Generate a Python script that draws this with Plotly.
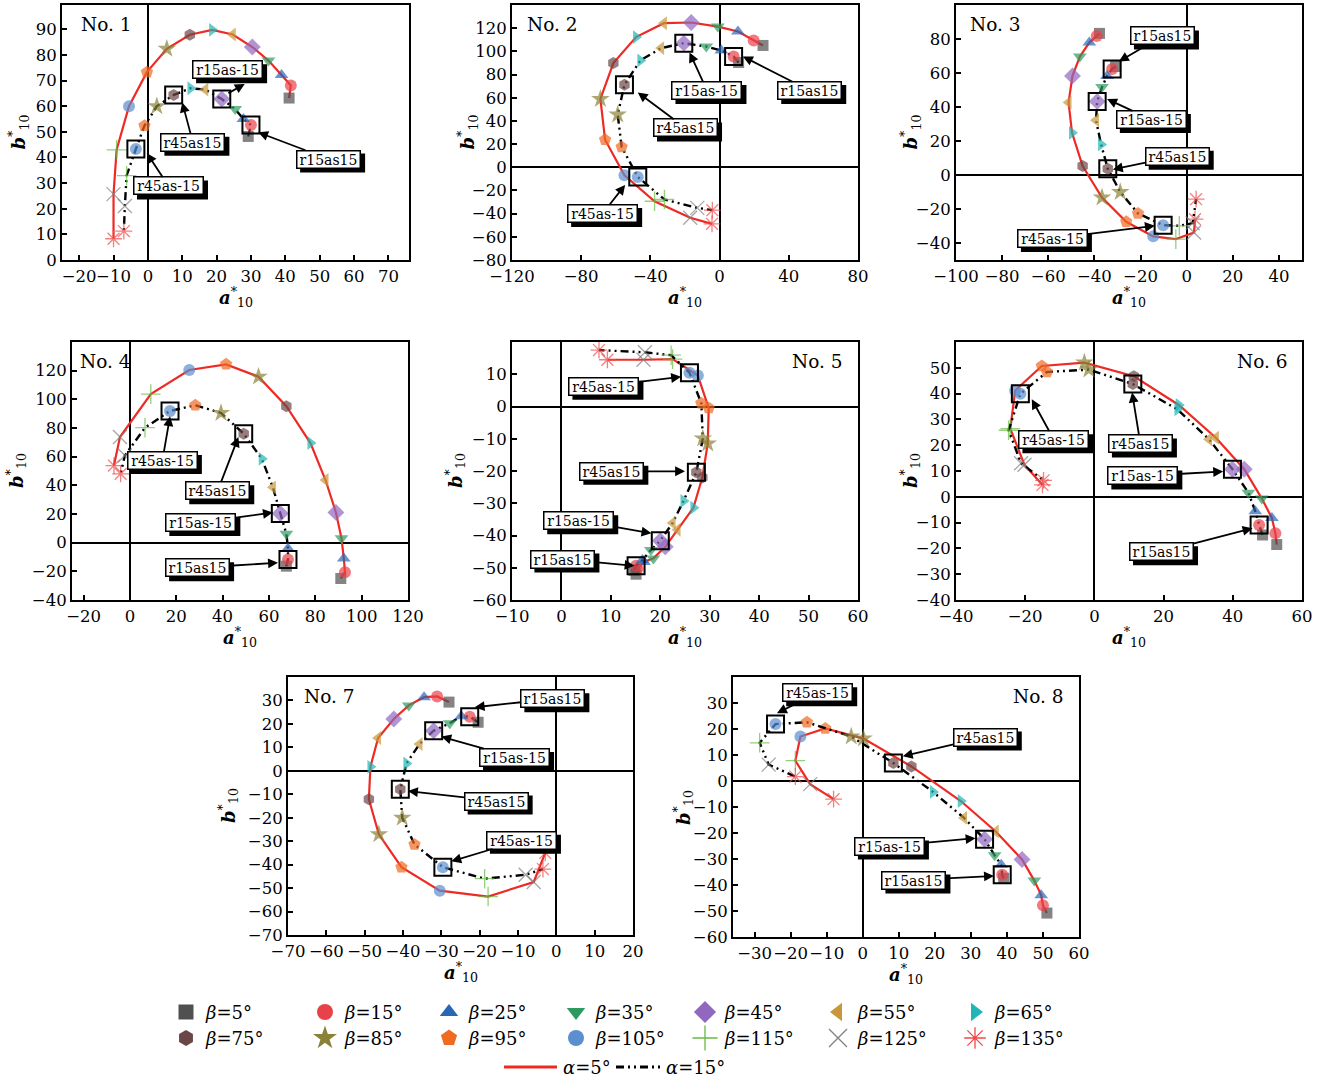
import plotly.graph_objects as go

W, H = 1326, 1081
FONT = "DejaVu Serif"

# ---------------- data ----------------
BETA = [5, 15, 25, 35, 45, 55, 65, 75, 85, 95, 105, 115, 125, 135]
BETA_LABELS = [f"<i>β</i>={b}°" for b in BETA]
ALPHA_LABELS = ["<i>α</i>=5°", "<i>α</i>=15°"]
PANEL_NAMES = ["No. 1", "No. 2", "No. 3", "No. 4", "No. 5", "No. 6", "No. 7", "No. 8"]

P1_A5_a = [41.1, 41.6, 38.9, 35.1, 30.4, 24.7, 18.7, 12.2, 5.5, -0.3, -5.5, -9.1, -10.0, -10.0]
P1_A5_b = [63.2, 68.1, 72.2, 77.8, 83.1, 88.0, 89.8, 87.9, 82.4, 73.3, 60.0, 43.0, 25.7, 8.3]
P1_A15_a = [29.2, 30.0, 27.8, 25.4, 21.5, 16.7, 12.4, 7.5, 2.6, -1.0, -3.5, -6.2, -6.7, -7.0]
P1_A15_b = [48.2, 52.7, 55.0, 58.9, 62.8, 66.5, 67.0, 64.4, 60.0, 52.4, 43.3, 32.9, 21.1, 11.3]

P2_A5_a = [25.1, 19.7, 10.6, -1.0, -16.4, -32.2, -48.3, -61.4, -68.9, -66.2, -55.0, -37.6, -17.0, -4.4]
P2_A5_b = [105.1, 109.4, 117.1, 121.4, 124.9, 124.3, 112.3, 89.9, 58.9, 23.8, -6.9, -29.3, -43.6, -48.8]
P2_A15_a = [11.0, 8.1, 1.0, -7.7, -20.7, -33.8, -45.8, -55.0, -58.9, -56.6, -47.3, -31.9, -12.9, -4.2]
P2_A15_b = [90.4, 95.6, 100.8, 104.2, 107.1, 102.8, 92.2, 71.2, 45.4, 17.5, -8.3, -27.8, -35.0, -37.0]

P3_A5_a = [-37.8, -39.0, -42.2, -46.3, -49.5, -51.2, -49.7, -45.1, -36.7, -26.2, -14.5, -4.7, 3.2, 3.6]
P3_A5_b = [83.3, 81.8, 77.9, 69.7, 58.3, 42.7, 24.8, 5.3, -13.3, -27.5, -36.1, -37.7, -33.8, -26.0]
P3_A15_a = [-30.8, -32.3, -34.5, -36.7, -38.8, -39.3, -37.1, -34.2, -28.8, -21.1, -10.2, -3.2, 2.6, 4.1]
P3_A15_b = [63.8, 62.4, 58.3, 51.7, 43.3, 32.2, 18.0, 3.7, -10.0, -22.6, -29.5, -29.9, -28.3, -14.2]

P4_A5_a = [91.0, 92.8, 92.3, 91.3, 88.9, 84.4, 77.9, 67.5, 55.5, 41.5, 25.6, 9.0, -4.3, -6.9]
P4_A5_b = [-25.0, -20.6, -11.0, 3.0, 21.1, 43.7, 69.5, 95.2, 115.8, 124.4, 120.5, 103.6, 73.7, 53.8]
P4_A15_a = [67.5, 68.2, 68.2, 67.5, 64.9, 61.7, 56.9, 49.1, 39.3, 28.2, 17.3, 6.5, -2.2, -4.0]
P4_A15_b = [-16.4, -11.7, -4.0, 6.3, 20.4, 38.6, 58.5, 76.0, 90.5, 95.9, 91.9, 80.2, 60.8, 48.0]

P5_A5_a = [15.1, 15.4, 16.7, 18.6, 21.0, 23.5, 26.7, 28.5, 29.6, 29.8, 27.6, 22.5, 16.6, 9.3]
P5_A5_b = [-52.0, -50.3, -48.2, -47.1, -43.5, -38.2, -31.4, -22.0, -11.5, -0.5, 9.6, 14.7, 14.5, 14.5]
P5_A15_a = [14.7, 15.1, 16.4, 18.1, 20.0, 22.5, 24.7, 27.3, 28.6, 28.3, 25.9, 22.2, 16.9, 7.6]
P5_A15_b = [-50.8, -49.4, -47.6, -44.5, -41.6, -36.1, -29.3, -20.4, -9.9, 1.0, 10.5, 15.9, 16.8, 17.5]

P6_A5_a = [52.7, 52.3, 51.3, 48.4, 43.3, 35.1, 24.4, 11.4, -2.9, -15.2, -22.9, -24.3, -20.2, -15.0]
P6_A5_b = [-18.5, -14.1, -8.2, -0.7, 10.7, 22.9, 35.6, 46.7, 52.0, 50.7, 41.2, 26.4, 12.4, 4.6]
P6_A15_a = [48.6, 47.6, 46.5, 44.5, 39.9, 33.1, 24.0, 11.1, -1.6, -13.7, -21.4, -24.8, -21.2, -14.7]
P6_A15_b = [-14.8, -10.9, -5.6, 1.6, 10.7, 22.3, 33.9, 43.7, 49.3, 48.4, 39.9, 25.8, 13.0, 6.4]

P7_A5_a = [-28.0, -31.1, -34.5, -38.5, -42.4, -46.5, -48.5, -48.9, -46.3, -40.4, -30.4, -17.8, -5.9, -2.9]
P7_A5_b = [29.3, 31.7, 31.4, 27.9, 22.1, 14.0, 1.7, -12.1, -27.1, -41.1, -51.1, -53.6, -47.4, -35.0]
P7_A15_a = [-20.4, -22.6, -24.8, -27.8, -32.0, -35.7, -39.1, -40.7, -40.2, -37.0, -29.6, -18.7, -8.0, -3.5]
P7_A15_b = [20.7, 23.1, 23.3, 20.3, 17.1, 11.4, 3.1, -7.9, -20.0, -31.4, -41.1, -46.0, -44.3, -41.9]

P8_A5_a = [51.1, 50.0, 49.5, 47.6, 44.2, 36.9, 27.2, 13.5, 0.2, -10.4, -17.3, -18.7, -14.6, -8.1]
P8_A5_b = [-50.8, -47.8, -43.9, -38.3, -30.2, -19.4, -7.7, 5.6, 16.3, 20.2, 17.1, 7.8, -1.2, -7.0]
P8_A15_a = [39.1, 38.7, 38.4, 36.6, 33.8, 28.1, 19.5, 8.5, -3.2, -15.5, -24.2, -28.6, -26.1, -18.7]
P8_A15_b = [-37.4, -36.1, -32.2, -28.6, -22.4, -14.2, -4.2, 6.9, 17.1, 22.6, 21.9, 14.7, 6.3, 1.7]

# highlighted (boxed) conditions: index into the alpha=15 series
BOX_LABELS = ["r15as15", "r15as-15", "r45as15", "r45as-15"]
BOX_INDEX = [1, 4, 7, 10]

# tick labels per panel
X_TICKS = [list(range(-20, 71, 10)), list(range(-120, 81, 40)), list(range(-100, 41, 20)),
           list(range(-20, 121, 20)), list(range(-10, 61, 10)), list(range(-40, 61, 20)),
           list(range(-70, 21, 10)), list(range(-30, 61, 10))]
Y_TICKS = [list(range(0, 91, 10)), list(range(-80, 121, 20)), list(range(-40, 81, 20)),
           list(range(-40, 121, 20)), list(range(-60, 11, 10)), list(range(-40, 51, 10)),
           list(range(-70, 31, 10)), list(range(-60, 31, 10))]

DATA = [(P1_A5_a, P1_A5_b, P1_A15_a, P1_A15_b), (P2_A5_a, P2_A5_b, P2_A15_a, P2_A15_b),
        (P3_A5_a, P3_A5_b, P3_A15_a, P3_A15_b), (P4_A5_a, P4_A5_b, P4_A15_a, P4_A15_b),
        (P5_A5_a, P5_A5_b, P5_A15_a, P5_A15_b), (P6_A5_a, P6_A5_b, P6_A15_a, P6_A15_b),
        (P7_A5_a, P7_A5_b, P7_A15_a, P7_A15_b), (P8_A5_a, P8_A5_b, P8_A15_a, P8_A15_b)]

# ---------------- layout / style ----------------
BOXES = [(62, 5, 409, 260), (512, 5, 858, 260), (956, 5, 1302, 260),
         (72, 342, 408, 600), (512, 342, 858, 600), (956, 342, 1302, 600),
         (288, 677, 633, 935), (733, 677, 1079, 937)]
X_RANGES = [[-25, 76], [-120, 80], [-100, 50], [-25, 120], [-10, 60], [-40, 60], [-70, 20], [-36, 60]]
Y_RANGES = [[0, 99.5], [-80, 140], [-50, 100], [-40, 140], [-60, 20], [-40, 60], [-70, 40], [-60, 40]]
YTITLE_OFF = [44, 45, 46, 56, 57, 46, 60, 50]
TITLE_POS = [(0.05, 'left'), (0.038, 'left'), (0.035, 'left'), (0.018, 'left'),
             (0.962, 'right'), (0.965, 'right'), (0.04, 'left'), (0.962, 'right')]

# label placement: (head_x, head_y, center_x, center_y) in data units, order as BOX_LABELS
LABEL_POS = [
    [(32.1, 49.8, 52.6, 39.4), None, (10.0, 61.5, 13.1, 45.9), (-0.3, 41.7, 6.0, 28.9)],
    [(13.5, 95.6, 52.1, 66.3), (-17.4, 99.1, -7.3, 66.3), (-47.3, 64.6, -19.7, 33.9), (-54.6, -15.2, -67.6, -39.9)],
    [(-29.4, 66.7, -10.5, 81.8), (-34.5, 44.7, -15.3, 32.6), (-32.0, 3.3, -4.1, 11.1), (-13.8, -29.9, -58.2, -37.3)],
    [(63.9, -14.0, 29.2, -17.5), (61.7, 21.1, 30.6, 14.0), (46.8, 73.7, 37.9, 36.3), (17.3, 88.2, 14.0, 57.3)],
    [(14.8, -49.4, 0.3, -47.3), (18.2, -39.3, 3.5, -35.4), (25.0, -20.1, 10.2, -20.1), (24.2, 9.2, 8.6, 6.3)],
    [(45.7, -12.2, 19.4, -21.3), (37.2, 9.8, 14.0, 8.1), (10.9, 40.4, 13.3, 20.5), (-18.1, 37.8, -11.7, 22.1)],
    [(-21.3, 27.1, -0.9, 30.7), (-30.0, 14.6, -10.9, 5.7), (-38.7, -8.6, -15.7, -12.9), (-27.4, -38.6, -9.1, -29.6)],
    [(36.4, -36.5, 14.2, -38.1), (31.3, -22.0, 7.4, -25.0), (11.1, 9.5, 34.0, 16.9), (-23.8, 26.1, -12.5, 33.9)],
]
P1_FREE_LABEL = (23.2, 74.2)              # No.1 r15as-15 label centre
P1_FREE_ARROW = (23.0, 64.8, 28.2, 68.7)  # tail -> head

COLORS = ['#505050', '#e8414a', '#2a66b8', '#2e9a60', '#9068bf', '#c8973a', '#22b5b5',
          '#6b4646', '#8a8238', '#f06a22', '#5b8fd0', '#66bb44', '#808080', '#f04848']
SYMBOLS = ['square', 'circle', 'triangle-up', 'triangle-down', 'diamond', 'triangle-left',
           'triangle-right', 'hexagon', 'star', 'pentagon', 'circle', 'cross-thin-open',
           'x-thin-open', 'asterisk-open']
SIZES = [11, 12, 12, 12, 13, 12, 12, 12, 14, 13, 12, 14, 14, 14]
LWS = [0, 0, 0, 0, 0, 0, 0, 0, 0, 0, 0, 1.3, 1.3, 1.3]

# legend placement (pixels, from top-left)
LEG_COL_X = [186, 325, 449, 576, 705, 838, 975]
LEG_ROW_Y = [1012, 1038]
LEG_TEXT_GAP = 17
LEG_LINE_Y = 1067
LEG_LINE_SEG = [(504, 557), (616, 660)]

RED = '#ee2a24'
DASH = '8px,4px,2px,4px,2px,4px'

marker_spec = dict(symbol=SYMBOLS, color=COLORS, size=SIZES, line=dict(width=LWS, color=COLORS))

fig = go.Figure()
layout = dict(width=W, height=H, margin=dict(l=0, r=0, t=0, b=0, autoexpand=False),
              paper_bgcolor='white', plot_bgcolor='rgba(0,0,0,0)', showlegend=False)
annotations = []
shapes = []

label_font = dict(family=FONT, size=14, color='black')
BW, BP, BH = 1.5, 2, 12


def label_width(text):
    return 64 if '-' in text else 58


def add_label(text, cx, cy, xa, ya, head=None):
    tw = label_width(text)
    ow, oh = tw + 2 * (BW + BP), BH + 2 * (BW + BP)
    shapes.append(dict(type='rect', xref=xa, yref=ya, xsizemode='pixel', ysizemode='pixel',
                       xanchor=cx, yanchor=cy, x0=-ow / 2 + 4, x1=ow / 2 + 4,
                       y0=-oh / 2 - 4, y1=oh / 2 - 4, fillcolor='black',
                       line=dict(width=0), layer='above'))
    common = dict(text=text, font=label_font, bgcolor='white', bordercolor='black',
                  borderwidth=BW, borderpad=BP, width=tw, height=BH, xref=xa, yref=ya)
    if head is None:
        annotations.append(dict(x=cx, y=cy, showarrow=False, xanchor='center',
                                yanchor='middle', **common))
    else:
        annotations.append(dict(x=head[0], y=head[1], ax=cx, ay=cy, axref=xa, ayref=ya,
                                showarrow=True, arrowhead=2, arrowsize=1.1, arrowwidth=1.8,
                                arrowcolor='black', standoff=0, **common))


for i in range(8):
    n = i + 1
    s = '' if n == 1 else str(n)
    xa, ya = 'x' + s, 'y' + s
    a5a, a5b, a15a, a15b = DATA[i]
    fig.add_trace(go.Scatter(x=a5a, y=a5b, xaxis=xa, yaxis=ya, mode='lines+markers',
                             line=dict(color=RED, width=2.2), marker=marker_spec,
                             hoverinfo='skip'))
    fig.add_trace(go.Scatter(x=a15a, y=a15b, xaxis=xa, yaxis=ya, mode='lines+markers',
                             line=dict(color='black', width=2.4, dash=DASH), marker=marker_spec,
                             hoverinfo='skip'))
    fig.add_trace(go.Scatter(x=[a15a[k] for k in BOX_INDEX], y=[a15b[k] for k in BOX_INDEX],
                             xaxis=xa, yaxis=ya, mode='markers',
                             marker=dict(symbol='square-open', size=17, color='black',
                                         line=dict(width=2)),
                             hoverinfo='skip'))

    l, t, r, b = BOXES[i]
    ax_common = dict(ticks='inside', ticklen=5, tickwidth=1.5, tickcolor='black',
                     showline=True, linewidth=2, linecolor='black', mirror=True,
                     zeroline=True, zerolinecolor='black', zerolinewidth=2,
                     showgrid=False, fixedrange=True, automargin=False, tickangle=0,
                     tickfont=dict(family=FONT, size=16.5, color='black'))
    layout['xaxis' + s] = dict(domain=[l / W, r / W], range=X_RANGES[i], tickvals=X_TICKS[i],
                               anchor=ya, **ax_common)
    layout['yaxis' + s] = dict(domain=[1 - b / H, 1 - t / H], range=Y_RANGES[i], tickvals=Y_TICKS[i],
                               anchor=xa, **ax_common)

    annotations.append(dict(x=(l + r) / 2 / W, y=1 - (b + 37) / H, xref='paper', yref='paper',
                            text='<b><i>a</i></b><sup>*</sup><sub>10</sub>', showarrow=False,
                            font=dict(family=FONT, size=18, color='black'),
                            xanchor='center', yanchor='middle'))
    annotations.append(dict(x=(l - YTITLE_OFF[i]) / W, y=1 - (t + b) / 2 / H, xref='paper', yref='paper',
                            text='<b><i>b</i></b><sup>*</sup><sub>10</sub>', showarrow=False, textangle=-90,
                            font=dict(family=FONT, size=18, color='black'),
                            xanchor='center', yanchor='middle'))
    tx, anc = TITLE_POS[i]
    annotations.append(dict(x=tx, y=0.925, xref=xa + ' domain', yref=ya + ' domain',
                            text=PANEL_NAMES[i], showarrow=False, xanchor=anc, yanchor='middle',
                            font=dict(family=FONT, size=18.5, color='black')))

    for k, lab in enumerate(BOX_LABELS):
        pos = LABEL_POS[i][k]
        if pos is None:
            cx, cy = P1_FREE_LABEL
            add_label(lab, cx, cy, xa, ya)
            tx0, ty0, hx0, hy0 = P1_FREE_ARROW
            annotations.append(dict(x=hx0, y=hy0, ax=tx0, ay=ty0, xref=xa, yref=ya,
                                    axref=xa, ayref=ya, text='', showarrow=True,
                                    arrowhead=2, arrowsize=1.1, arrowwidth=1.8, arrowcolor='black'))
            continue
        hx, hy, cx, cy = pos
        add_label(lab, cx, cy, xa, ya, head=(hx, hy))

# ---------- legend (drawn on a hidden full-figure axis, pixel units) ----------
layout['xaxis9'] = dict(domain=[0, 1], range=[0, W], visible=False, fixedrange=True, anchor='y9')
layout['yaxis9'] = dict(domain=[0, 1], range=[H, 0], visible=False, fixedrange=True, anchor='x9')
for k in range(len(BETA)):
    row, col = divmod(k, 7)
    px, py = LEG_COL_X[col], LEG_ROW_Y[row]
    fig.add_trace(go.Scatter(x=[px], y=[py], xaxis='x9', yaxis='y9', mode='markers',
                             marker=dict(symbol=SYMBOLS[k], color=COLORS[k], size=SIZES[k] + 4,
                                         line=dict(width=LWS[k], color=COLORS[k])),
                             hoverinfo='skip', cliponaxis=False))
    annotations.append(dict(x=px + LEG_TEXT_GAP, y=py, xref='x9', yref='y9', text=BETA_LABELS[k],
                            showarrow=False, xanchor='left', yanchor='middle',
                            font=dict(family=FONT, size=18, color='black')))
line_styles = [dict(color=RED, width=3), dict(color='black', width=3, dash=DASH)]
for k, (x0, x1) in enumerate(LEG_LINE_SEG):
    fig.add_trace(go.Scatter(x=[x0, x1], y=[LEG_LINE_Y, LEG_LINE_Y], xaxis='x9', yaxis='y9',
                             mode='lines', line=line_styles[k], hoverinfo='skip', cliponaxis=False))
    annotations.append(dict(x=x1 + 4, y=LEG_LINE_Y, xref='x9', yref='y9', text=ALPHA_LABELS[k],
                            showarrow=False, xanchor='left', yanchor='middle',
                            font=dict(family=FONT, size=18, color='black')))

layout['annotations'] = annotations
layout['shapes'] = shapes
fig.update_layout(**layout)
fig.write_html("out.html", config={'displayModeBar': False},
               post_script="document.body.style.margin='0px';")
